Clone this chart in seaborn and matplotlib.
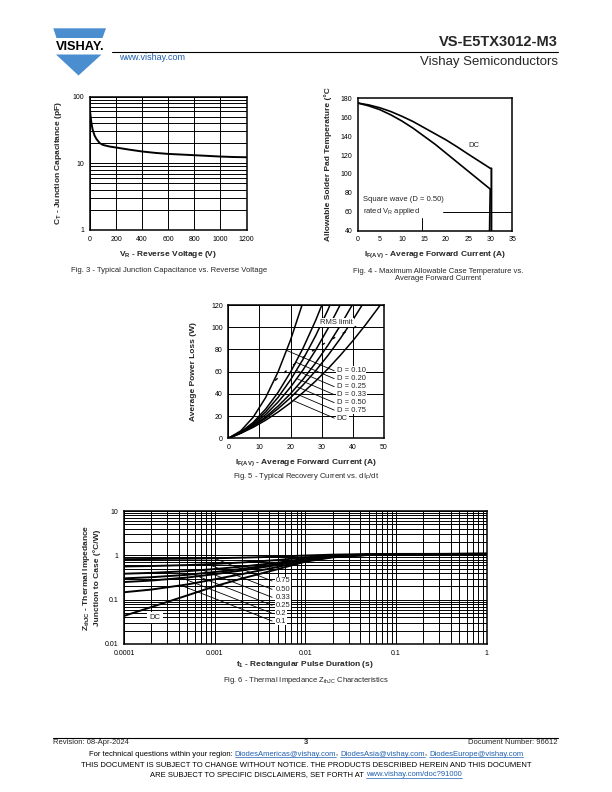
import numpy as np
import matplotlib
matplotlib.use("Agg")
import matplotlib.pyplot as plt
import seaborn as sns
from matplotlib.patches import Polygon
from matplotlib.ticker import FixedLocator, FixedFormatter, LogLocator, NullFormatter

# ---------------- data ----------------
# Fig. 3 - junction capacitance
fig3_vr = [0, 5, 10, 20, 35, 50, 75, 100, 150, 200, 300, 400, 500, 600, 700, 800, 900, 1000, 1100, 1200]
fig3_ct = [62, 50, 41, 32, 26, 23, 20, 18.8, 17.8, 17.2, 16.0, 15.0, 14.3, 13.8, 13.5, 13.2, 12.9, 12.6, 12.4, 12.3]
fig3_xticks = [0, 200, 400, 600, 800, 1000, 1200]
fig3_yticks = [1, 10, 100]

# Fig. 4 - allowable temperature
fig4_if = [0, 2.5, 5, 7.5, 10, 12.5, 15, 17.5, 20, 22.5, 25, 27.5, 30]
fig4_dc = [175, 173, 170, 166, 161, 155.5, 149, 142.5, 136, 128.7, 121, 113.5, 106]
fig4_sq = [175, 172, 168, 162.5, 156, 148.5, 140, 131.5, 122, 112.5, 103, 93.5, 84]
fig4_xticks = [0, 5, 10, 15, 20, 25, 30, 35]
fig4_yticks = [40, 60, 80, 100, 120, 140, 160, 180]

# Fig. 5 - average power loss
fig5_if = [0, 4, 8, 12, 16, 20, 24, 28, 32, 36, 40, 44, 48, 52]
fig5_d010 = [0, 6.7, 19.0, 36.7, 59.9, 88.6, 122.7]
fig5_d020 = [0, 5.6, 14.3, 26.3, 41.4, 59.7, 81.1, 105.8, 133.6]
fig5_d025 = [0, 5.3, 13.2, 23.8, 36.9, 52.7, 71.1, 92.1, 115.7, 141.9]
fig5_d033 = [0, 5.0, 12.2, 21.4, 32.7, 46.1, 61.6, 79.1, 98.8, 120.5, 144.3]
fig5_d050 = [0, 4.8, 11.2, 19.3, 29.0, 40.2, 53.1, 67.7, 83.8, 101.6, 121.0]
fig5_d075 = [0, 4.7, 10.7, 18.0, 26.7, 36.6, 48.0, 60.6, 74.6, 89.9, 106.6, 124.5]
fig5_dc = [0, 4.5, 9.9, 16.3, 23.7, 32.0, 41.2, 51.4, 62.6, 74.8, 87.8, 101.9, 116.9, 132.8]
fig5_labels = ["D = 0.10", "D = 0.20", "D = 0.25", "D = 0.33", "D = 0.50", "D = 0.75", "DC"]
fig5_label_p = [60.8, 53.7, 46.5, 39.3, 32.1, 25.4, 18.2]
fig5_rms_if = [15, 20, 25, 30, 35, 40, 43]
fig5_rms_p = [52, 64, 75, 84, 92, 99, 104]
fig5_xticks = [0, 10, 20, 30, 40, 50]
fig5_yticks = [0, 20, 40, 60, 80, 100, 120]

# Fig. 6 - thermal impedance
fig6_t = [1e-4, 2e-4, 5e-4, 1e-3, 2e-3, 5e-3, 1e-2, 2e-2, 5e-2, 0.1, 1]
fig6_d075 = [0.821, 0.827, 0.841, 0.86, 0.885, 0.933, 0.99, 1.035, 1.065, 1.075, 1.08]
fig6_d050 = [0.5615, 0.574, 0.6025, 0.64, 0.69, 0.785, 0.90, 0.99, 1.05, 1.07, 1.08]
fig6_d033 = [0.385, 0.402, 0.440, 0.490, 0.557, 0.685, 0.839, 0.959, 1.040, 1.067, 1.08]
fig6_d025 = [0.302, 0.321, 0.364, 0.42, 0.495, 0.6375, 0.81, 0.945, 1.035, 1.065, 1.08]
fig6_d020 = [0.250, 0.270, 0.316, 0.376, 0.456, 0.608, 0.792, 0.936, 1.032, 1.064, 1.08]
fig6_d010 = [0.147, 0.169, 0.2205, 0.288, 0.378, 0.549, 0.756, 0.918, 1.026, 1.062, 1.08]
fig6_dc = [0.043, 0.068, 0.125, 0.20, 0.30, 0.49, 0.72, 0.90, 1.02, 1.06, 1.08]
fig6_labels = ["0.75", "0.50", "0.33", "0.25", "0.2", "0.1"]
fig6_label_z = [0.264, 0.171, 0.113, 0.0746, 0.0493, 0.033]
fig6_xticks = [1e-4, 1e-3, 1e-2, 1e-1, 1]
fig6_xticklabels = ["0.0001", "0.001", "0.01", "0.1", "1"]
fig6_yticks = [0.01, 0.1, 1, 10]
fig6_yticklabels = ["0.01", "0.1", "1", "10"]

# ---------------- style ----------------
sns.set_theme(style="white")
plt.rcParams['font.family'] = ['Liberation Sans', 'DejaVu Sans']
plt.rcParams['mathtext.fontset'] = 'custom'
plt.rcParams['mathtext.rm'] = 'Liberation Sans'
plt.rcParams['mathtext.bf'] = 'Liberation Sans:bold'
plt.rcParams['mathtext.default'] = 'regular'

W, H = 612, 792
fig = plt.figure(figsize=(6.12, 7.92), dpi=100)
BLUE = '#4A8ED0'
LINK = '#1F5FB0'
TICK = 5.0
LAB = 6.0
CAP = 5.5
LW = 1.2
GLW = 0.7


def axes_px(l, t, r, b):
    return fig.add_axes([l / W, 1 - b / H, (r - l) / W, (b - t) / H])


def style_ax(ax):
    for s in ax.spines.values():
        s.set_color('black')
        s.set_linewidth(1.1)
        s.set_visible(True)
    ax.tick_params(length=0, labelsize=TICK, pad=4, colors='black')
    ax.set_facecolor('white')


def leader_end(cx, cy, x0, y0, slope, logx=False, logy=False):
    X = np.log10(cx) if logx else np.asarray(cx, float)
    Y = np.log10(cy) if logy else np.asarray(cy, float)
    u0 = np.log10(x0) if logx else x0
    v0 = np.log10(y0) if logy else y0
    us = np.linspace(u0, X[0], 3000)
    line = v0 + slope * (us - u0)
    curve = np.interp(us, X, Y)
    idx = int(np.argmax(line >= curve))
    u, v = us[idx], line[idx]
    return (10 ** u if logx else u), (10 ** v if logy else v)


def curve(ax, x, y, lw=LW, **kw):
    sns.lineplot(x=list(x), y=list(y), ax=ax, color='black', lw=lw,
                 estimator=None, sort=False, legend=False, **kw)


# ---------------- Fig. 3 ----------------
ax3 = axes_px(90, 96.5, 246.5, 230)
style_ax(ax3)
ax3.set_yscale('log')
ax3.set_xlim(0, 1200)
ax3.set_ylim(1, 100)
ax3.xaxis.set_major_locator(FixedLocator(fig3_xticks))
ax3.yaxis.set_major_locator(FixedLocator(fig3_yticks))
ax3.yaxis.set_major_formatter(FixedFormatter([str(v) for v in fig3_yticks]))
ax3.yaxis.set_minor_locator(LogLocator(base=10, subs=range(2, 10)))
ax3.yaxis.set_minor_formatter(NullFormatter())
ax3.tick_params(which='minor', length=0)
ax3.grid(True, which='both', axis='y', color='black', lw=GLW)
ax3.grid(True, which='major', axis='x', color='black', lw=GLW)
curve(ax3, fig3_vr, fig3_ct, lw=1.4)
ax3.set_xlabel(r"V$_\mathregular{R}$ - Reverse Voltage (V)", fontsize=LAB, fontweight='bold', labelpad=4.5)
ax3.set_ylabel(r"C$_\mathregular{T}$ - Junction Capacitance (pF)", fontsize=LAB, fontweight='bold', labelpad=6)

# ---------------- Fig. 4 ----------------
ax4 = axes_px(357.7, 98.3, 512.3, 230.7)
style_ax(ax4)
ax4.set_xlim(0, 35)
ax4.set_ylim(40, 180)
ax4.xaxis.set_major_locator(FixedLocator(fig4_xticks))
ax4.yaxis.set_major_locator(FixedLocator(fig4_yticks))
ax4.fill_betweenx([40, fig4_dc[-1]], fig4_if[-1] - 0.15, fig4_if[-1] + 0.3, color='0.6', lw=0)
curve(ax4, fig4_if + [fig4_if[-1] + 0.3, fig4_if[-1] + 0.3], fig4_dc + [fig4_dc[-1], 40])
curve(ax4, fig4_if + [fig4_if[-1] - 0.15], fig4_sq + [40])
ax4.plot([19.4, 35], [60, 60], color='black', lw=GLW)
ax4.plot([14.6, 14.6], [40, 53], color='black', lw=GLW)
ax4.text(26.2, 130.5, "DC", fontsize=CAP, ha='center', va='center')
ax4.text(1.3, 65.5, "Square wave (D = 0.50)\nrated V$_\\mathregular{R}$ applied", fontsize=CAP,
         ha='left', va='center', linespacing=1.35)
ax4.set_xlabel(r"I$_\mathregular{F(AV)}$ - Average Forward Current (A)", fontsize=LAB, fontweight='bold', labelpad=4.5)
ax4.set_ylabel("Allowable Solder Pad Temperature (°C", fontsize=LAB, fontweight='bold', labelpad=6)

# ---------------- Fig. 5 ----------------
ax5 = axes_px(228.3, 305, 384, 438.3)
style_ax(ax5)
ax5.set_xlim(0, 50)
ax5.set_ylim(0, 120)
ax5.xaxis.set_major_locator(FixedLocator(fig5_xticks))
ax5.yaxis.set_major_locator(FixedLocator(fig5_yticks))
ax5.grid(True, which='major', color='black', lw=GLW)
fig5_curves = [fig5_d010, fig5_d020, fig5_d025, fig5_d033, fig5_d050, fig5_d075, fig5_dc]
for cv in fig5_curves:
    curve(ax5, fig5_if[:len(cv)], cv, lw=1.1)
ax5.plot(fig5_rms_if, fig5_rms_p, color='black', lw=1.0, ls=(0, (2.5, 6)))
ax5.text(34.8, 104, "RMS limit", fontsize=CAP, ha='center', va='center',
         bbox=dict(facecolor='white', edgecolor='none', pad=0.6))
for cv, lab, py in zip(fig5_curves, fig5_labels, fig5_label_p):
    ex, ey = leader_end(fig5_if[:len(cv)], cv, 34.0, py, -1.2)
    ax5.plot([34.0, ex], [py, ey], color='black', lw=0.6)
    ax5.text(34.8, py, lab, fontsize=CAP, ha='left', va='center',
             bbox=dict(facecolor='white', edgecolor='none', pad=0.6))
ax5.set_xlabel(r"I$_\mathregular{F(AV)}$ - Average Forward Current (A)", fontsize=LAB, fontweight='bold', labelpad=4.5)
ax5.set_ylabel("Average Power Loss (W)", fontsize=LAB, fontweight='bold', labelpad=10)

# ---------------- Fig. 6 ----------------
ax6 = axes_px(124, 511, 486.7, 644)
style_ax(ax6)
ax6.set_xscale('log')
ax6.set_yscale('log')
ax6.set_xlim(1e-4, 1)
ax6.set_ylim(0.01, 10)
ax6.xaxis.set_major_locator(FixedLocator(fig6_xticks))
ax6.xaxis.set_major_formatter(FixedFormatter(fig6_xticklabels))
ax6.yaxis.set_major_locator(FixedLocator(fig6_yticks))
ax6.yaxis.set_major_formatter(FixedFormatter(fig6_yticklabels))
for a in (ax6.xaxis, ax6.yaxis):
    a.set_minor_locator(LogLocator(base=10, subs=range(2, 10)))
    a.set_minor_formatter(NullFormatter())
ax6.tick_params(which='minor', length=0)
ax6.grid(True, which='both', color='black', lw=GLW)
fig6_curves = [fig6_d075, fig6_d050, fig6_d033, fig6_d025, fig6_d020, fig6_d010]
for cv in fig6_curves + [fig6_dc]:
    curve(ax6, fig6_t, cv, lw=1.4)
for cv, lab, zy in zip(fig6_curves, fig6_labels, fig6_label_z):
    ex, ey = leader_end(fig6_t, cv, 0.0043, zy, -0.8, logx=True, logy=True)
    ax6.plot([0.0043, ex], [zy, ey], color='black', lw=0.6)
    ax6.text(0.0047, zy, lab, fontsize=CAP, ha='left', va='center',
             bbox=dict(facecolor='white', edgecolor='none', pad=0.6))
ax6.text(2.2e-4, 0.039, "DC", fontsize=CAP, ha='center', va='center',
         bbox=dict(facecolor='white', edgecolor='none', pad=1.5))
ax6.set_xlabel(r"t$_\mathregular{1}$ - Rectangular Pulse Duration (s)", fontsize=LAB, fontweight='bold', labelpad=2)
ax6.set_ylabel("Z$_\\mathregular{thJC}$ - Thermal Impedance\nJunction to Case (°C/W)", fontsize=LAB,
               fontweight='bold', labelpad=3, linespacing=1.1)

# ---------------- page decoration (pixel coordinates) ----------------
bg = fig.add_axes([0, 0, 1, 1], zorder=-5)
bg.set_xlim(0, W)
bg.set_ylim(H, 0)
bg.axis('off')

bg.add_patch(Polygon([(53.3, 28.3), (106, 28.3), (102.5, 38), (56.5, 38)], closed=True, facecolor=BLUE, edgecolor='none'))
bg.add_patch(Polygon([(56, 54.5), (101.5, 54.5), (78.5, 75.5)], closed=True, facecolor=BLUE, edgecolor='none'))
bg.text(80, 46.5, "VISHAY.", fontsize=9.2, fontweight='bold', ha='center', va='center', color='black')
bg.plot([112, 558], [51.5, 51.5], color='black', lw=0.8)
bg.text(558, 42, "VS-E5TX3012-M3", fontsize=10.5, fontweight='bold', ha='right', va='center')
bg.text(558, 62.5, "Vishay Semiconductors", fontsize=9.5, ha='right', va='center')
bg.text(119, 58, "www.vishay.com", fontsize=6.5, ha='left', va='center', color=LINK)

# captions
bg.text(169, 270.5, "Fig. 3 - Typical Junction Capacitance vs. Reverse Voltage", fontsize=CAP, ha='center', va='center')
bg.text(438, 275, "Fig. 4 - Maximum Allowable Case Temperature vs.\nAverage Forward Current", fontsize=CAP,
        ha='center', va='center', linespacing=1.15)
bg.text(306, 477, "Fig. 5 - Typical Recovery Current vs. dI$_\\mathregular{F}$/dt", fontsize=CAP, ha='center', va='center')
bg.text(306, 681, "Fig. 6 - Thermal Impedance Z$_\\mathregular{thJC}$ Characteristics", fontsize=CAP, ha='center', va='center')

# footer
bg.plot([53, 558], [737.5, 737.5], color='black', lw=0.8)
bg.text(53, 742.5, "Revision: 08-Apr-2024", fontsize=CAP, ha='left', va='center')
bg.text(306, 742.5, "3", fontsize=CAP, fontweight='bold', ha='center', va='center')
bg.text(558, 742.5, "Document Number: 96612", fontsize=CAP, ha='right', va='center')

renderer = fig.canvas.get_renderer()


def seg_width(s, size):
    t1 = bg.text(0, 0, "|" + s + "|", fontsize=size)
    t2 = bg.text(0, 0, "||", fontsize=size)
    w = t1.get_window_extent(renderer).width - t2.get_window_extent(renderer).width
    t1.remove()
    t2.remove()
    return w


def seg_line(y, segs, cx, size=CAP):
    widths = [seg_width(s, size) for s, _, _ in segs]
    x = cx - sum(widths) / 2
    for (s, col, ul), w in zip(segs, widths):
        bg.text(x, y, s, fontsize=size, color=col, ha='left', va='baseline')
        if ul:
            bg.plot([x, x + w], [y + 1.3, y + 1.3], color=col, lw=0.5)
        x += w


seg_line(755.5, [("For technical questions within your region: ", 'black', False),
                 ("DiodesAmericas@vishay.com", LINK, True), (", ", 'black', False),
                 ("DiodesAsia@vishay.com", LINK, True), (", ", 'black', False),
                 ("DiodesEurope@vishay.com", LINK, True)], 306)
seg_line(767, [("THIS DOCUMENT IS SUBJECT TO CHANGE WITHOUT NOTICE. THE PRODUCTS DESCRIBED HEREIN AND THIS DOCUMENT", 'black', False)], 306)
seg_line(776.5, [("ARE SUBJECT TO SPECIFIC DISCLAIMERS, SET FORTH AT ", 'black', False),
                 ("www.vishay.com/doc?91000", LINK, True)], 306)

fig.savefig("out.png", dpi=100, facecolor='white')
